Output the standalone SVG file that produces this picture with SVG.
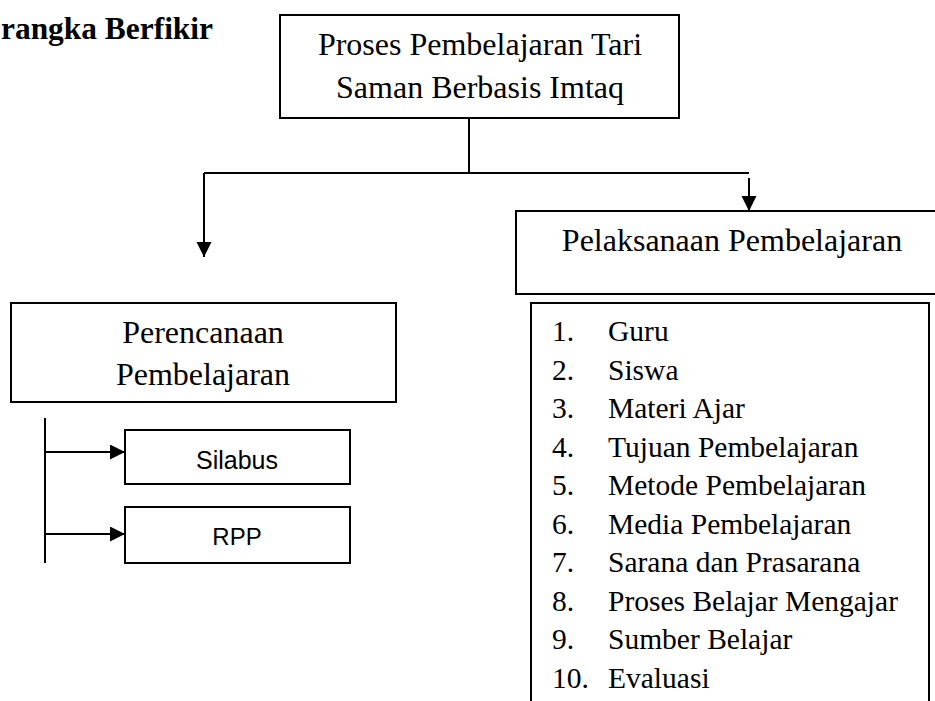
<svg xmlns="http://www.w3.org/2000/svg" width="935" height="701" viewBox="0 0 935 701">
<style>
.box{fill:#fff;stroke:#000;stroke-width:2}
.ln{fill:none;stroke:#000;stroke-width:2}
.t{font-family:"Liberation Serif","Times New Roman",serif;fill:#000}
.s{font-family:"Liberation Sans",Arial,sans-serif;fill:#000}
</style>
<defs>
<marker id="ah" markerUnits="userSpaceOnUse" markerWidth="16" markerHeight="16" refX="15" refY="7.5" orient="auto">
<path d="M0,0 L15,7.5 L0,15 z" fill="#000"/>
</marker>
</defs>
<rect width="935" height="701" fill="#fff"/>
<text class="t" x="1" y="39" font-size="31" font-weight="bold" textLength="212" lengthAdjust="spacingAndGlyphs">rangka Berfikir</text>

<g id="connectors">
<path class="ln" d="M469,118 V173"/>
<path class="ln" d="M204,173 H749"/>
<path class="ln" d="M204,173 V257" marker-end="url(#ah)"/>
<path class="ln" d="M749,178 V211" marker-end="url(#ah)"/>
<path class="ln" d="M45,418 V563"/>
<path class="ln" d="M45,452 H125" marker-end="url(#ah)"/>
<path class="ln" d="M45,534 H125" marker-end="url(#ah)"/>
</g>

<g id="proses">
<rect class="box" x="280" y="15" width="399" height="103"/>
<text class="t" x="480" y="55" font-size="32" text-anchor="middle">Proses Pembelajaran Tari</text>
<text class="t" x="480" y="98" font-size="32" text-anchor="middle">Saman Berbasis Imtaq</text>
</g>

<g id="pelaksanaan">
<rect class="box" x="516" y="211" width="430" height="83"/>
<text class="t" x="732" y="251" font-size="32" text-anchor="middle">Pelaksanaan Pembelajaran</text>
</g>

<g id="daftar">
<rect class="box" x="531" y="303" width="398" height="410"/>
<g class="t" font-size="29.5">
<text x="552" y="341">1.</text><text x="608" y="341">Guru</text>
<text x="552" y="379.5">2.</text><text x="608" y="379.5">Siswa</text>
<text x="552" y="418">3.</text><text x="608" y="418">Materi Ajar</text>
<text x="552" y="456.5">4.</text><text x="608" y="456.5">Tujuan Pembelajaran</text>
<text x="552" y="495">5.</text><text x="608" y="495">Metode Pembelajaran</text>
<text x="552" y="533.5">6.</text><text x="608" y="533.5">Media Pembelajaran</text>
<text x="552" y="572">7.</text><text x="608" y="572">Sarana dan Prasarana</text>
<text x="552" y="610.5">8.</text><text x="608" y="610.5">Proses Belajar Mengajar</text>
<text x="552" y="649">9.</text><text x="608" y="649">Sumber Belajar</text>
<text x="552" y="688">10.</text><text x="608" y="688">Evaluasi</text>
</g>
</g>

<g id="perencanaan">
<rect class="box" x="11" y="303" width="385" height="99"/>
<text class="t" x="203" y="343" font-size="32" text-anchor="middle">Perencanaan</text>
<text class="t" x="203" y="385" font-size="32" text-anchor="middle">Pembelajaran</text>
</g>

<g id="silabus">
<rect class="box" x="125" y="430" width="225" height="54"/>
<text class="s" x="237" y="469" font-size="25" text-anchor="middle">Silabus</text>
</g>

<g id="rpp">
<rect class="box" x="125" y="507" width="225" height="56"/>
<text class="s" x="237" y="545" font-size="24" text-anchor="middle">RPP</text>
</g>
</svg>
